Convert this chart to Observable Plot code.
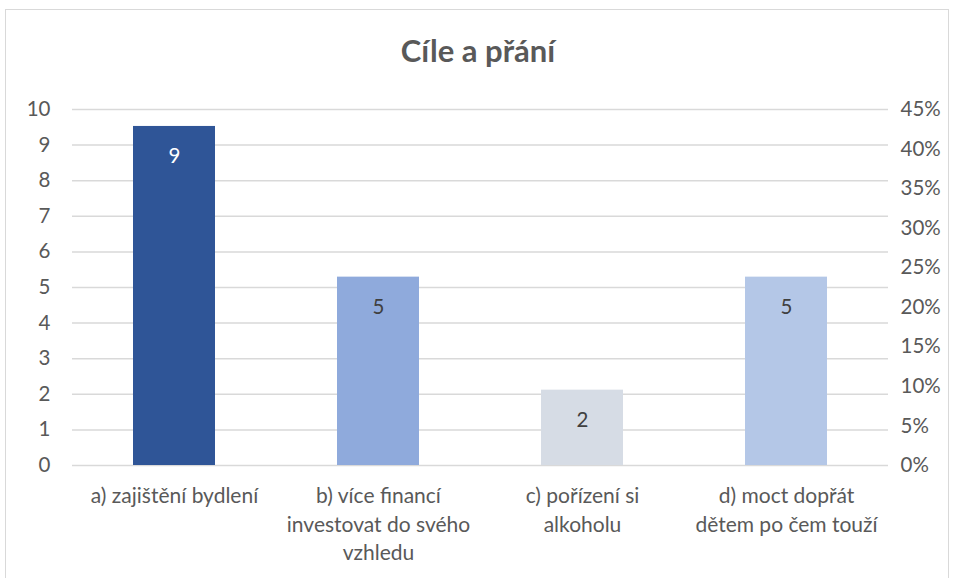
<!DOCTYPE html>
<html>
<head>
<meta charset="utf-8">
<script src="https://cdn.jsdelivr.net/npm/d3@7"></script>
<script src="https://cdn.jsdelivr.net/npm/@observablehq/plot@0.6"></script>
<style>
  html, body { margin: 0; padding: 0; background: #fff; }
  #wrap { position: relative; width: 956px; height: 578px; overflow: hidden; font-family: Lato, "Open Sans", sans-serif; }
  #frame { position: absolute; left: 5px; top: 9px; width: 944px; height: 620px; border: 1.5px solid #D9D9D9; box-sizing: border-box; }
  #title { position: absolute; left: 0; top: 31px; width: 956px; text-align: center; font-size: 31px; font-weight: bold; color: #595959; }
  #chart { position: absolute; left: 0; top: 0; }
</style>
</head>
<body>
<div id="wrap">
  <div id="frame"></div>
  <div id="title">Cíle a přání</div>
  <div id="chart"></div>
</div>
<script>
const categories = ["a", "b", "c", "d"];
const categoryLabels = [
  "a) zajištění bydlení",
  "b) více financí\ninvestovat do svého\nvzhledu",
  "c) pořízení si\nalkoholu",
  "d) moct dopřát\ndětem po čem touží"
];
const counts = [9, 5, 2, 5];
const barColors = ["#2F5597", "#8FAADC", "#D6DCE5", "#B4C7E7"];
const labelColors = ["#FFFFFF", "#404040", "#404040", "#404040"];
const leftTicks = [0, 1, 2, 3, 4, 5, 6, 7, 8, 9, 10];
const rightTicks = [0, 0.05, 0.10, 0.15, 0.20, 0.25, 0.30, 0.35, 0.40, 0.45];

const total = d3.sum(counts);
const data = categories.map((c, i) => ({
  cat: c,
  label: categoryLabels[i],
  count: counts[i],
  share: counts[i] / total,
  color: barColors[i],
  labelColor: labelColors[i]
}));
const leftMax = 10, rightMax = 0.45;
const leftToY = v => v / leftMax * rightMax;

const chart = Plot.plot({
  width: 956,
  height: 578,
  marginLeft: 72,
  marginRight: 68,
  marginTop: 109,
  marginBottom: 113,
  style: { fontFamily: "Lato, 'Open Sans', sans-serif", background: "transparent" },
  x: { domain: categories, paddingInner: 0.6, paddingOuter: 0.3, axis: null },
  y: { domain: [0, rightMax], axis: null },
  marks: [
    Plot.gridY(leftTicks.map(leftToY), { stroke: "#D9D9D9", strokeOpacity: 1, strokeWidth: 1.5 }),
    Plot.barY(data, { x: "cat", y: "share", fill: d => d.color }),
    Plot.text(data, { x: "cat", y: "share", text: d => String(d.count), dy: 30, fill: d => d.labelColor, fontSize: 20.5 }),
    Plot.axisY(leftTicks.map(leftToY), {
      anchor: "left", label: null, tickSize: 0, tickPadding: 22, fontSize: 20.5, color: "#595959",
      tickFormat: d => String(Math.round(d / rightMax * leftMax))
    }),
    Plot.axisY(rightTicks, {
      anchor: "right", label: null, tickSize: 0, tickPadding: 12, fontSize: 20.5, color: "#595959", textAnchor: "start",
      tickFormat: d => Math.round(d * 100) + "%"
    }),
    Plot.text(data, {
      x: "cat", frameAnchor: "bottom", text: "label", lineAnchor: "top", dy: 18,
      fontSize: 21, fill: "#595959", lineHeight: 1.34
    })
  ]
});
document.getElementById("chart").appendChild(chart);
</script>
</body>
</html>
